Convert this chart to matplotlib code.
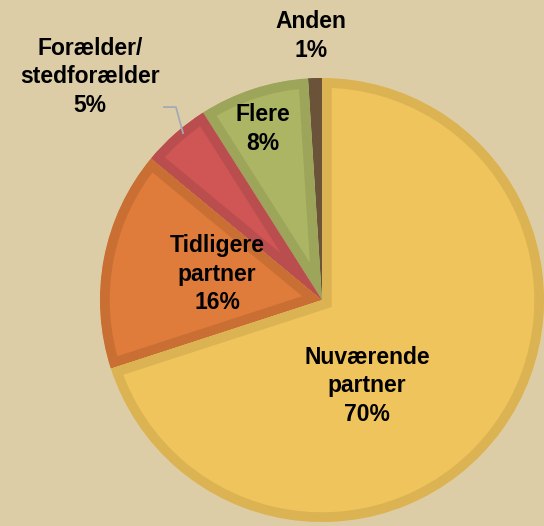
import matplotlib.pyplot as plt

# data
labels = ["Anden", "Flere", "Forælder/\nstedforælder", "Tidligere\npartner", "Nuværende\npartner"]
values = [1, 8, 5, 16, 70]

# styling
fills = ["#6B533A", "#ABB563", "#D05555", "#DF7B3B", "#F0C45C"]
edges = ["#6B533A", "#9CA55A", "#BA4E4E", "#C96F33", "#DBB352"]
label_pos = [(-0.05, 1.19), (-0.266, 0.77), (-1.045, 1.005), (-0.473, 0.117), (0.203, -0.387)]
bg = "#DDCDA7"

plt.rcParams['font.family'] = ['Liberation Sans', 'DejaVu Sans']

fig = plt.figure(figsize=(5.44, 5.26), dpi=100, facecolor=bg)
ax = fig.add_axes([0, 0, 1, 1])
ax.set_facecolor(bg)

wedges, _ = ax.pie(values, colors=fills, startangle=90, counterclock=True, radius=1)
for w, ec in zip(wedges, edges):
    w.set_edgecolor(ec)
    w.set_linewidth(14)
    w.set_joinstyle('miter')
    w.set_clip_on(True)
    w.set_clip_path(w)

for lab, v, (x, y) in zip(labels, values, label_pos):
    ax.text(x, y, f"{lab}\n{v}%", ha='center', va='center', fontsize=16.5,
            fontweight='bold', color='black', linespacing=1.3)

# leader line for the small slice
ax.plot([-0.712, -0.658, -0.626], [0.869, 0.869, 0.752], color='#A3ABB5', lw=1.3)

ax.set_xlim(-322 / 222, (544 - 322) / 222)
ax.set_ylim(-(526 - 300) / 222, 300 / 222)
ax.set_aspect('auto')
ax.axis('off')

fig.savefig("out.png", dpi=100, facecolor=bg)
